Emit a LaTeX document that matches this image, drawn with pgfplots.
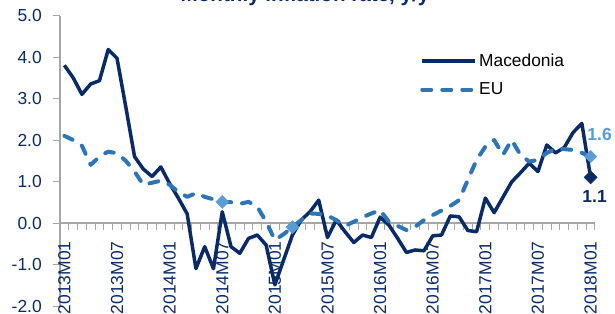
\documentclass[border=0pt]{standalone}
\usepackage{fontspec}
\setmainfont{Liberation Sans}
\usepackage{pgfplots}
\usepackage{pgfplotstable}
\pgfplotsset{compat=1.18}
\definecolor{navy}{HTML}{0A2A66}
\definecolor{eublue}{HTML}{2E75B6}
\definecolor{eulight}{HTML}{5B9BD5}
\definecolor{axgray}{HTML}{A6A6A6}

\pgfplotstableread{
i mk eu
0 3.80 2.10
1 3.50 2.00
2 3.10 1.86
3 3.35 1.40
4 3.43 1.60
5 4.18 1.72
6 3.97 1.68
7 2.80 1.50
8 1.60 1.24
9 1.30 0.92
10 1.12 0.97
11 1.35 1.02
12 0.95 0.92
13 0.60 0.75
14 0.22 0.63
15 -1.10 0.72
16 -0.57 0.63
17 -1.10 0.57
18 0.27 0.51
19 -0.57 0.50
20 -0.73 0.46
21 -0.37 0.51
22 -0.29 0.39
23 -0.53 0.03
24 -1.49 -0.41
25 -0.89 -0.27
26 -0.29 -0.10
27 0.07 0.07
28 0.27 0.23
29 0.55 0.22
30 -0.35 0.18
31 0.07 0.07
32 -0.21 -0.07
33 -0.47 0.03
34 -0.29 0.14
35 -0.35 0.23
36 0.14 0.31
37 -0.05 0.03
38 -0.37 -0.07
39 -0.71 -0.17
40 -0.65 -0.09
41 -0.67 0.07
42 -0.31 0.19
43 -0.29 0.30
44 0.17 0.41
45 0.15 0.55
46 -0.18 1.04
47 -0.21 1.52
48 0.60 1.84
49 0.25 2.00
50 0.62 1.64
51 0.99 2.00
52 1.21 1.64
53 1.44 1.48
54 1.24 1.52
55 1.88 1.69
56 1.69 1.78
57 1.82 1.78
58 2.18 1.76
59 2.40 1.69
60 1.10 1.60
}\datatable

\begin{document}
\begin{tikzpicture}
\begin{axis}[
  name=ax,
  scale only axis, width=535bp, height=290.5bp,
  xmin=-0.5, xmax=60.5, ymin=-2, ymax=5,
  clip=false,
  axis x line=middle, axis y line=left,
  axis line style={-, draw=axgray, line width=1.2bp},
  hide obscured x ticks=false, hide obscured y ticks=false,
  tick align=outside,
  major tick length=6.7bp,
  tick style={draw=axgray, line width=1bp},
  xtick={-0.5,0.5,...,60.5}, xticklabels={},
  extra x ticks={0,6,...,60},
  extra x tick labels={2013M01,2013M07,2014M01,2014M07,2015M01,2015M07,2016M01,2016M07,2017M01,2017M07,2018M01},
  extra x tick style={major tick length=0pt,
    xticklabel style={yshift=-15bp, rotate=90, anchor=east, font=\fontsize{17.5}{20}\selectfont, text=navy}},
  ytick={-2,-1,0,1,2,3,4,5},
  yticklabels={-2.0,-1.0,0.0,1.0,2.0,3.0,4.0,5.0},
  yticklabel style={xshift=-8bp, font=\fontsize{17.5}{20}\selectfont, text=navy},
  legend style={draw=none, fill=none, at={(rel axis cs:0.673,0.875)}, anchor=north west,
    font=\fontsize{17.4}{20}\selectfont, text=black, row sep=11bp, inner sep=0pt},
  legend image code/.code={\draw[#1] (0bp,0bp) -- (53bp,0bp);},
  legend cell align=left,
]
\addplot[navy, line width=3.5bp, line join=round] table[x=i,y=mk]{\datatable};
\addlegendentry{Macedonia}
\addplot[eublue, line width=4bp, dash pattern=on 9bp off 11bp, line cap=round, line join=round] table[x=i,y=eu]{\datatable};
\addlegendentry{EU}
\addplot[forget plot, only marks, mark=square*, mark size=4.6bp, mark options={rotate=45, fill=eulight, draw=eulight, solid}] coordinates {(18,0.51) (26,-0.10)};
\addplot[forget plot, only marks, mark=square*, mark size=4.4bp, mark options={rotate=45, fill=eulight, draw=eulight, solid},
  nodes near coords={\bfseries 1.6}, nodes near coords style={anchor=center, xshift=9bp, yshift=21.7bp, font=\fontsize{17.5}{20}\selectfont, text=eulight}] coordinates {(60,1.60)};
\addplot[forget plot, only marks, mark=square*, mark size=4.6bp, mark options={rotate=45, fill=navy, draw=navy, solid},
  nodes near coords={\bfseries 1.1}, nodes near coords style={anchor=center, xshift=4bp, yshift=-18.7bp, font=\fontsize{17.5}{20}\selectfont, text=navy}] coordinates {(60,1.10)};
\node[anchor=base, font=\fontsize{20.7}{24}\selectfont\bfseries, text=navy] at (rel axis cs:0.458,1.048) {Monthly inflation rate, y/y};
\end{axis}
\pgfresetboundingbox
\path[use as bounding box] ([shift={(-60bp,-8bp)}]ax.south west) rectangle ([shift={(555bp,306bp)}]ax.south west);
\end{tikzpicture}
\end{document}
